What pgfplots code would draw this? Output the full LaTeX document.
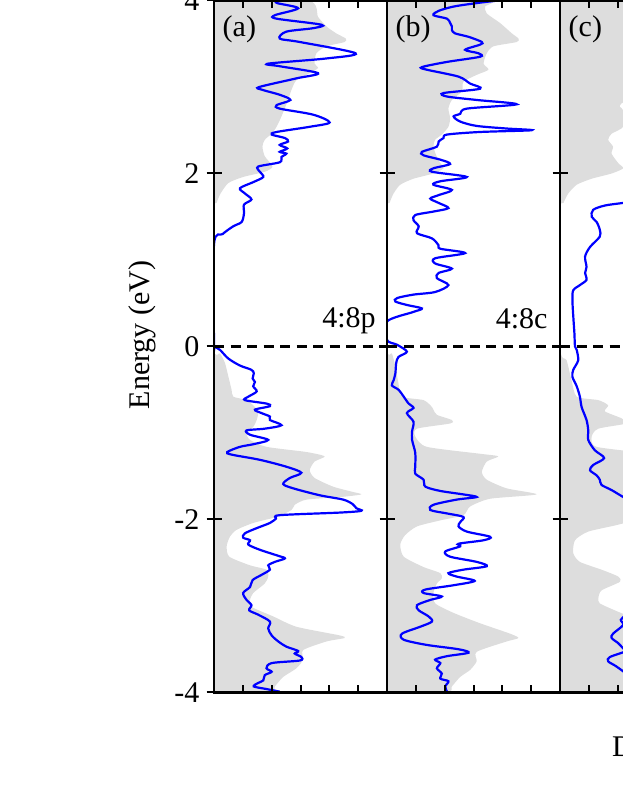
\documentclass[border=0pt]{standalone}
\usepackage{fontspec}
\setmainfont{Liberation Serif}
\usepackage{pgfplots}
\pgfplotsset{compat=1.18}
\definecolor{dosgray}{RGB}{221,221,221}
\definecolor{dosblue}{RGB}{0,0,255}
\pgfplotsset{
  dospanel/.style={
    scale only axis, width=173pt, height=692pt,
    xmin=0, xmax=6, ymin=-4, ymax=4,
    xtick={1,2,3,4,5}, xticklabels={},
    ytick={-4,-2,0,2,4}, yticklabels={},
    xtick align=inside, ytick align=center,
    major tick length=15pt,
    xtick style={/pgfplots/major tick length=7.5pt},
    line width=2.4pt,
    axis line style={line width=2.4pt},
    tick style={line width=2pt, black},
    axis on top,
    font=\fontsize{30}{36}\selectfont,
    anchor=south west,
  },
  grayfill/.style={fill=dosgray, draw=none, smooth, tension=0.4, forget plot},
  blueline/.style={draw=dosblue, line width=2.2pt, smooth, tension=0.5, no markers},
  zeroline/.style={black, dash pattern=on 10pt off 6.5pt, line width=2.2pt, no markers},
}
\begin{document}
\begin{tikzpicture}
\path[use as bounding box] (0,0) rectangle (623pt,806pt);

% ---------------- panel (a)
\begin{axis}[dospanel, at={(214pt,113.5pt)},
  yticklabels={-4,-2,0,2,4},
  yticklabel style={anchor=east, inner sep=0pt, xshift=-6pt}]
\addplot[grayfill] coordinates {
(0,-4) (1.94,-4.0) (2.11,-3.93) (2.40,-3.82) (2.86,-3.72) (3.09,-3.62) (3.09,-3.51) (3.90,-3.41) (4.53,-3.37) (4.36,-3.34) (2.86,-3.24) (2.05,-3.12) (1.30,-3.01) (1.25,-2.93) (1.36,-2.85) (1.76,-2.74) (1.88,-2.66) (1.82,-2.58) (1.25,-2.53) (0.53,-2.43) (0.44,-2.31) (0.55,-2.20) (0.78,-2.12) (1.36,-2.04) (2.17,-1.97) (2.69,-1.89) (2.80,-1.83) (3.21,-1.77) (4.40,-1.74) (5.11,-1.71) (4.80,-1.68) (4.13,-1.62) (3.49,-1.52) (3.32,-1.43) (3.49,-1.33) (3.84,-1.27) (3.21,-1.22) (1.82,-1.16) (1.25,-1.08) (1.13,-1.00) (1.36,-0.93) (1.48,-0.85) (1.53,-0.77) (1.42,-0.70) (1.13,-0.62) (0.67,-0.58) (0.61,-0.50) (0.50,-0.35) (0.38,-0.19) (0.21,-0.08) (0,0)
(0,1.54) (0.09,1.66) (0.23,1.77) (0.50,1.89) (1.01,1.96) (1.76,2.02) (2.03,2.08) (1.76,2.20) (1.68,2.31) (1.76,2.39) (2.00,2.46) (2.17,2.54) (2.34,2.66) (2.57,2.85) (2.69,2.97) (2.86,3.08) (3.32,3.16) (3.61,3.22) (3.49,3.27) (3.55,3.39) (3.90,3.47) (4.53,3.52) (4.57,3.56) (4.24,3.62) (3.90,3.70) (3.61,3.81) (3.26,4.0) (0,4)
};
\addplot[blueline] coordinates {
(2.28,-3.99) (1.82,-3.96) (1.38,-3.93) (1.53,-3.89) (1.71,-3.86) (1.76,-3.80) (2.00,-3.76) (1.82,-3.72) (2.00,-3.66) (2.98,-3.63) (3.03,-3.59) (2.80,-3.55) (2.92,-3.52) (2.51,-3.47) (2.23,-3.41) (2.00,-3.34) (1.88,-3.26) (1.94,-3.18) (1.53,-3.10) (1.22,-3.05) (1.30,-2.99) (1.13,-2.93) (1.01,-2.85) (1.25,-2.78) (1.34,-2.70) (1.65,-2.64) (1.94,-2.58) (1.88,-2.53) (2.11,-2.49) (2.46,-2.45) (2.23,-2.42) (1.59,-2.35) (1.19,-2.29) (1.25,-2.24) (1.01,-2.21) (1.07,-2.16) (1.48,-2.10) (1.94,-2.04) (2.15,-1.99) (2.28,-1.95) (4.36,-1.92) (5.11,-1.90) (4.94,-1.87) (4.80,-1.82) (4.48,-1.77) (3.67,-1.72) (2.75,-1.64) (2.40,-1.59) (2.63,-1.52) (3.03,-1.46) (2.51,-1.39) (1.59,-1.31) (0.61,-1.25) (0.46,-1.22) (0.90,-1.16) (1.36,-1.13) (1.88,-1.08) (1.25,-1.02) (1.13,-0.97) (1.76,-0.95) (2.34,-0.91) (1.94,-0.85) (1.94,-0.81) (1.65,-0.77) (1.42,-0.73) (1.94,-0.69) (1.82,-0.66) (1.07,-0.62) (1.19,-0.58) (1.48,-0.52) (1.36,-0.46) (1.42,-0.41) (1.34,-0.37) (1.38,-0.31) (1.30,-0.27) (0.90,-0.22) (0.50,-0.14) (0.21,-0.04) (0.03,0.0) (0,0.05) (0,1.18) (0.30,1.30) (0.67,1.39) (0.96,1.44) (1.04,1.54) (1.04,1.64) (1.30,1.70) (1.07,1.77) (0.90,1.83) (1.36,1.90) (1.71,1.96) (1.59,2.02) (1.53,2.08) (2.28,2.13) (2.34,2.19) (2.51,2.23) (2.28,2.25) (2.54,2.29) (2.28,2.33) (2.57,2.37) (2.46,2.41) (2.00,2.45) (2.17,2.48) (3.32,2.54) (4.01,2.59) (3.44,2.68) (2.28,2.75) (2.17,2.79) (2.65,2.85) (2.28,2.91) (1.65,2.97) (1.57,3.00) (2.86,3.10) (3.61,3.16) (2.28,3.24) (1.88,3.27) (3.90,3.33) (4.91,3.39) (2.98,3.52) (2.28,3.56) (2.51,3.64) (3.44,3.68) (3.73,3.72) (2.17,3.79) (2.11,3.83) (2.92,3.91) (2.19,3.97) (2.15,4.0)
};
\addplot[zeroline] coordinates {(0,0) (6,0)};
\node[anchor=base west, inner sep=0pt] at (axis cs:0.26,3.58) {(a)};
\node[anchor=base east, inner sep=0pt] at (axis cs:5.65,0.225) {4:8p};
\end{axis}

% ---------------- panel (b)
\begin{axis}[dospanel, at={(387pt,113.5pt)}]
\addplot[grayfill] coordinates {
(0,-4) (2.08,-4.0) (2.25,-3.93) (2.54,-3.82) (2.88,-3.74) (3.11,-3.64) (3.11,-3.53) (4.15,-3.41) (4.56,-3.37) (4.27,-3.32) (3.23,-3.20) (2.31,-3.08) (1.67,-2.97) (1.61,-2.85) (1.73,-2.74) (1.90,-2.68) (1.85,-2.62) (1.27,-2.55) (0.58,-2.43) (0.46,-2.29) (0.63,-2.18) (1.04,-2.08) (1.85,-2.01) (2.65,-1.95) (2.88,-1.85) (3.58,-1.76) (5.19,-1.71) (4.15,-1.64) (3.46,-1.54) (3.29,-1.45) (3.46,-1.33) (3.86,-1.27) (3.23,-1.24) (1.38,-1.16) (0.98,-1.04) (1.04,-0.95) (2.19,-0.89) (2.25,-0.85) (1.73,-0.79) (1.61,-0.73) (1.56,-0.70) (1.27,-0.62) (0.52,-0.58) (0.40,-0.43) (0.29,-0.23) (0.17,-0.08) (0,0)
(0,1.54) (0.09,1.66) (0.23,1.77) (0.46,1.87) (0.92,1.94) (1.61,2.00) (1.96,2.06) (1.85,2.12) (1.73,2.19) (1.61,2.31) (1.67,2.39) (1.90,2.45) (2.13,2.54) (2.19,2.64) (2.13,2.75) (2.25,2.85) (2.60,2.95) (2.65,3.06) (3.11,3.14) (3.52,3.20) (3.35,3.27) (3.46,3.39) (3.69,3.47) (4.50,3.52) (4.56,3.56) (4.33,3.62) (3.92,3.74) (3.46,3.85) (3.40,3.93) (3.58,4.0) (0,4)
};
\addplot[blueline] coordinates {
(2.08,-3.99) (2.02,-3.93) (2.13,-3.87) (1.85,-3.84) (1.90,-3.78) (1.73,-3.72) (1.85,-3.66) (1.67,-3.62) (2.08,-3.58) (2.83,-3.54) (2.48,-3.50) (1.38,-3.45) (0.58,-3.39) (0.52,-3.32) (1.15,-3.24) (1.56,-3.18) (1.44,-3.12) (1.10,-3.05) (1.04,-2.99) (1.50,-2.93) (1.90,-2.89) (1.27,-2.85) (1.33,-2.81) (2.31,-2.76) (3.04,-2.71) (2.42,-2.66) (2.13,-2.62) (2.65,-2.58) (3.46,-2.54) (3.11,-2.49) (2.19,-2.43) (2.02,-2.37) (2.54,-2.31) (2.48,-2.28) (3.35,-2.24) (3.58,-2.20) (2.77,-2.14) (2.48,-2.08) (2.54,-2.03) (2.65,-1.97) (2.08,-1.93) (1.50,-1.89) (1.61,-1.83) (2.42,-1.77) (3.11,-1.74) (2.65,-1.71) (1.85,-1.67) (1.33,-1.62) (1.27,-1.54) (0.98,-1.47) (0.98,-1.39) (0.98,-1.23) (0.87,-1.08) (0.87,-0.98) (0.92,-0.87) (0.69,-0.77) (0.92,-0.71) (0.75,-0.66) (0.58,-0.58) (0.40,-0.50) (0.17,-0.45) (0.23,-0.39) (0.29,-0.31) (0.32,-0.19) (0.40,-0.12) (0.69,-0.06) (0.35,0.02) (0,0.075) (0,0.29) (0.92,0.40) (1.21,0.44) (0.69,0.48) (0.29,0.52) (0.35,0.56) (0.92,0.60) (1.67,0.63) (2.13,0.71) (1.73,0.79) (1.79,0.85) (2.25,0.90) (1.67,0.96) (1.67,1.02) (2.71,1.08) (1.85,1.13) (1.79,1.17) (1.56,1.25) (1.04,1.31) (1.10,1.39) (0.92,1.46) (0.98,1.52) (1.61,1.56) (2.13,1.60) (1.79,1.66) (1.50,1.71) (1.79,1.75) (2.25,1.81) (1.61,1.87) (1.85,1.91) (2.77,1.96) (1.56,2.02) (1.61,2.06) (2.19,2.11) (1.85,2.16) (1.27,2.21) (1.21,2.25) (1.73,2.31) (1.79,2.37) (1.96,2.41) (2.08,2.45) (3.23,2.48) (5.02,2.50) (4.15,2.52) (3.11,2.55) (2.54,2.60) (2.31,2.66) (2.54,2.69) (2.77,2.75) (4.50,2.80) (3.11,2.85) (2.08,2.89) (1.96,2.93) (3.23,2.98) (2.88,3.04) (2.48,3.12) (1.38,3.20) (1.21,3.23) (2.08,3.29) (3.23,3.35) (3.17,3.39) (2.71,3.43) (3.23,3.49) (3.29,3.52) (2.83,3.58) (2.36,3.62) (2.25,3.66) (2.25,3.70) (2.19,3.74) (2.08,3.79) (1.61,3.83) (1.79,3.88) (2.31,3.93) (3.11,3.97) (3.86,4.0)
};
\addplot[zeroline] coordinates {(0,0) (6,0)};
\node[anchor=base west, inner sep=0pt] at (axis cs:0.26,3.58) {(b)};
\node[anchor=base east, inner sep=0pt] at (axis cs:5.61,0.21) {4:8c};
\end{axis}

% ---------------- panel (c)
\begin{axis}[dospanel, at={(560pt,113.5pt)}]
\addplot[grayfill] coordinates {
(0,-4) (2.3,-4.0) (2.6,-3.85) (3.0,-3.7) (3.2,-3.55) (4.3,-3.4) (3.3,-3.25) (2.4,-3.12) (1.90,-3.05) (1.38,-2.97) (1.33,-2.91) (1.44,-2.82) (2.08,-2.72) (2.02,-2.66) (1.44,-2.58) (0.69,-2.49) (0.46,-2.39) (0.52,-2.24) (0.98,-2.14) (2.02,-2.06) (2.8,-1.98) (3.5,-1.8) (5.0,-1.71) (3.5,-1.55) (3.3,-1.4) (3.6,-1.28) (3.2,-1.24) (1.27,-1.16) (1.10,-1.04) (1.33,-0.95) (2.3,-0.89) (2.13,-0.83) (1.56,-0.75) (1.67,-0.68) (1.33,-0.62) (0.58,-0.58) (0.40,-0.39) (0.23,-0.16) (0,0)
(0,1.54) (0.12,1.66) (0.29,1.77) (0.58,1.87) (1.10,1.94) (1.79,2.00) (2.19,2.06) (2.02,2.12) (1.79,2.23) (1.84,2.31) (1.67,2.39) (1.79,2.46) (2.19,2.54) (2.19,2.73) (2.08,2.77) (2.13,2.81) (2.6,2.9) (3.0,3.1) (3.4,3.3) (4.2,3.55) (3.7,3.8) (3.5,4.0) (0,4)
};
\addplot[blueline] coordinates {
(2.6,-4.0) (2.4,-3.82) (1.96,-3.70) (1.67,-3.64) (1.73,-3.59) (2.3,-3.52) (2.19,-3.49) (2.02,-3.43) (1.79,-3.37) (1.84,-3.32) (2.19,-3.22) (2.11,-3.16) (2.3,-3.10) (3.0,-2.9) (2.7,-2.6) (3.2,-2.3) (2.8,-2.0) (2.5,-1.8) (2.19,-1.74) (1.79,-1.66) (1.44,-1.60) (1.38,-1.54) (1.27,-1.49) (1.04,-1.43) (1.15,-1.37) (1.53,-1.29) (1.21,-1.20) (0.98,-1.08) (0.98,-0.97) (0.92,-0.85) (0.75,-0.70) (0.69,-0.58) (0.58,-0.46) (0.43,-0.35) (0.46,-0.27) (0.63,-0.16) (0.58,-0.04) (0.52,0.0) (0.50,0.15) (0.46,0.35) (0.43,0.54) (0.46,0.65) (0.69,0.71) (0.92,0.77) (0.87,0.85) (0.92,0.92) (0.87,1.04) (1.04,1.15) (1.38,1.27) (1.38,1.35) (1.27,1.44) (1.10,1.50) (1.15,1.58) (1.56,1.63) (2.19,1.66) (3.0,1.70) (3.5,1.9) (3.2,2.3) (3.6,2.8) (3.3,3.3) (3.8,4.0)
};
\addplot[zeroline] coordinates {(0,0) (6,0)};
\node[anchor=base west, inner sep=0pt] at (axis cs:0.26,3.58) {(c)};
\end{axis}

\node[rotate=90, anchor=base] at (149pt,471pt) {\fontsize{30}{36}\selectfont Energy (eV)};
\node[anchor=base west, inner sep=0pt] at (612pt,49pt) {\fontsize{30}{36}\selectfont DOS (states/eV)};
\end{tikzpicture}
\end{document}
